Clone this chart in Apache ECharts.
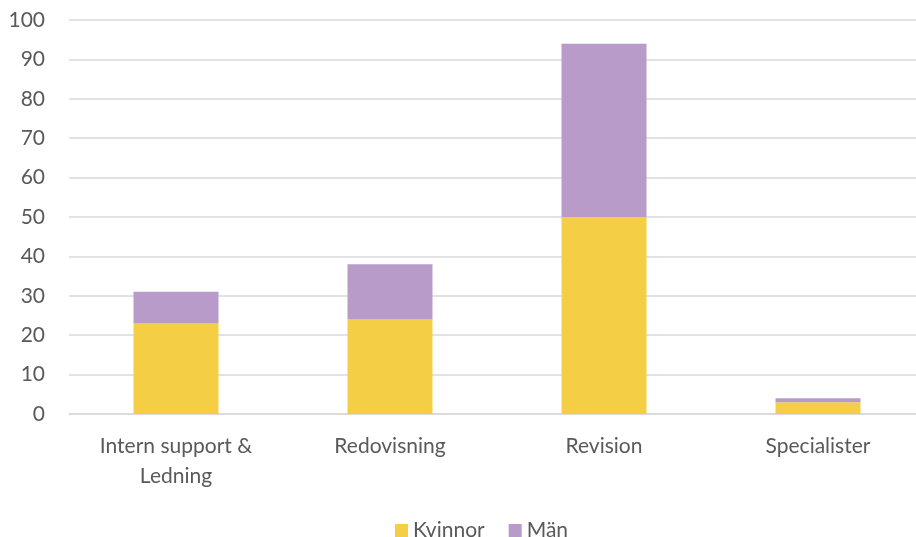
<!DOCTYPE html>
<html>
<head>
<meta charset="utf-8">
<script src="https://cdn.jsdelivr.net/npm/echarts@6/dist/echarts.min.js"></script>
<style>
  html, body { margin: 0; padding: 0; background: #fff; }
  #chart { width: 916px; height: 537px; }
</style>
</head>
<body>
<div id="chart"></div>
<script>
const categories = ['Intern support &\nLedning', 'Redovisning', 'Revision', 'Specialister']
const kvinnor = [23, 24, 50, 3]
const man = [8, 14, 44, 1]
const yTicks = { min: 0, max: 100, interval: 10 }

const font = 'Lato, "Open Sans", sans-serif'
const textColor = '#595959'

const chart = echarts.init(document.getElementById('chart'))
chart.setOption({
  animation: false,
  backgroundColor: '#fff',
  textStyle: { fontFamily: font, color: textColor },
  // plot runs past the right edge, like the source export
  grid: { left: 69, top: 20, right: -9, height: 394, containLabel: false, outerBoundsMode: 'none' },
  legend: {
    data: ['Kvinnor', 'Män'],
    top: 515,
    left: 390,
    icon: 'rect',
    itemWidth: 13,
    itemHeight: 13,
    itemGap: 24,
    textStyle: { fontSize: 21, color: textColor, fontFamily: font },
  },
  xAxis: {
    type: 'category',
    data: categories,
    axisLine: { lineStyle: { color: '#d9d9d9', width: 1.5 } },
    axisTick: { show: false },
    axisLabel: { fontSize: 21, color: textColor, margin: 17, lineHeight: 30, fontFamily: font, interval: 0 },
  },
  yAxis: {
    type: 'value',
    min: yTicks.min,
    max: yTicks.max,
    interval: yTicks.interval,
    axisLine: { show: false },
    axisTick: { show: false },
    axisLabel: { fontSize: 21, color: textColor, margin: 24, fontFamily: font },
    splitLine: { lineStyle: { color: '#d9d9d9', width: 1.5 } },
  },
  series: [
    {
      name: 'Kvinnor',
      type: 'bar',
      stack: 'total',
      data: kvinnor,
      barWidth: 85,
      itemStyle: { color: '#f4cf46' },
    },
    {
      name: 'Män',
      type: 'bar',
      stack: 'total',
      data: man,
      barWidth: 85,
      itemStyle: { color: '#b89bc9' },
    },
  ],
})
</script>
</body>
</html>
